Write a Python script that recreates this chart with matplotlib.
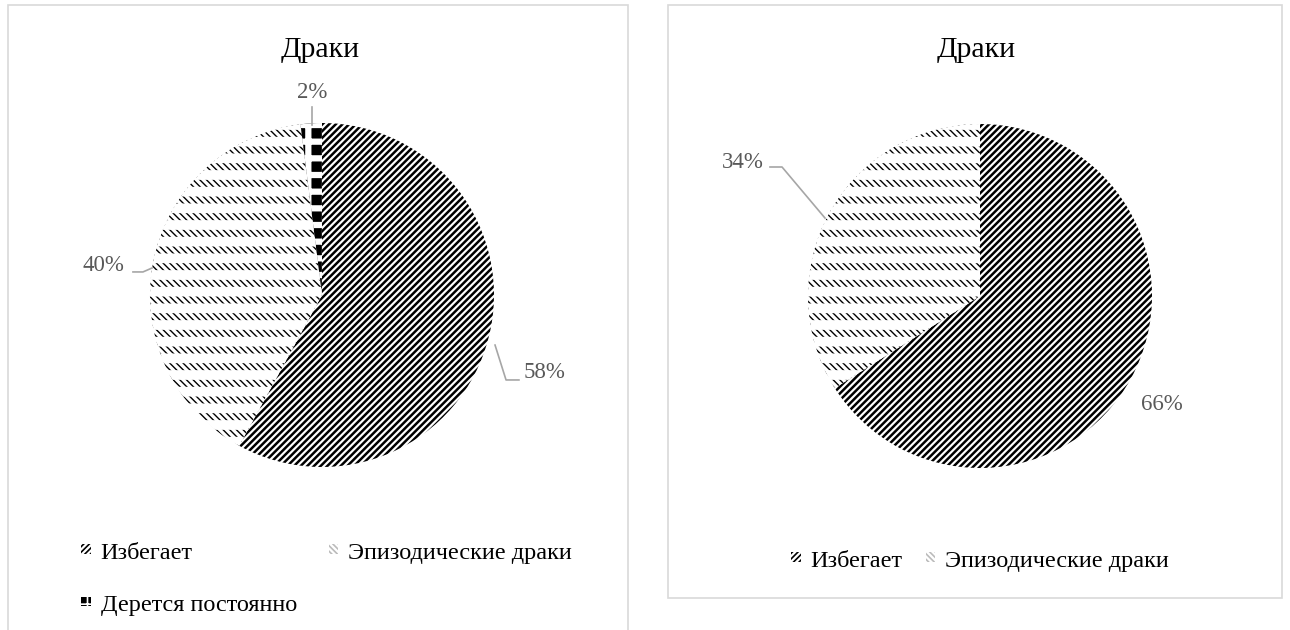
import matplotlib
matplotlib.use("Agg")
import matplotlib.pyplot as plt
from matplotlib.patches import Rectangle, Patch
from matplotlib.legend_handler import HandlerPatch

plt.rcParams['font.family'] = ['Liberation Serif', 'DejaVu Serif']

# ---- data ----
title = "Драки"
left_labels = ["Избегает", "Эпизодические драки", "Дерется постоянно"]
left_values = [58, 40, 2]
right_labels = ["Избегает", "Эпизодические драки"]
right_values = [66, 34]

W, H = 1290, 630
fig = plt.figure(figsize=(W / 100, H / 100), dpi=100)
fig.patch.set_facecolor('white')

R_PX = 172.0
AX_PX = 400.0
LIM = AX_PX / 2 / R_PX
GRAY = '#595959'
LEADER = '#a6a6a6'

def frac_box(x0, y0_top, w, h):
    return [x0 / W, 1 - (y0_top + h) / H, w / W, h / H]

# panel borders
for (x0, y0, x1, y1) in [(8, 5, 628, 640), (668, 5, 1282, 598)]:
    fig.add_artist(Rectangle((x0 / W, 1 - y1 / H), (x1 - x0) / W, (y1 - y0) / H,
                             transform=fig.transFigure, fill=False,
                             edgecolor='#d9d9d9', linewidth=1.2, clip_on=False))

def set_hlw(p, lw):
    if hasattr(p, 'set_hatch_linewidth'):
        p.set_hatch_linewidth(lw)

def style_wedges(ax, values, kinds):
    with plt.rc_context({'hatch.linewidth': 1.8}):
        wb, _ = ax.pie(values, startangle=90, counterclock=False, radius=1,
                       wedgeprops=dict(linewidth=0))
    with plt.rc_context({'hatch.linewidth': 7.0}):
        wo, _ = ax.pie(values, startangle=90, counterclock=False, radius=1,
                       wedgeprops=dict(linewidth=0))
    for b, o, k in zip(wb, wo, kinds):
        if k == 'avoid':
            b.set_facecolor('white'); b.set_edgecolor('black'); b.set_hatch('/////')
            set_hlw(b, 1.8)
            o.set_visible(False)
        elif k == 'episodic':
            b.set_facecolor('white'); b.set_edgecolor('black'); b.set_hatch('\\' * 5)
            set_hlw(b, 1.0)
            o.set_facecolor('none'); o.set_edgecolor('white'); o.set_hatch('-')
            set_hlw(o, 7.0)
        else:
            b.set_facecolor('black'); b.set_edgecolor('white'); b.set_hatch('+')
            set_hlw(b, 4.5)
            o.set_visible(False)
        b.set_linewidth(0); o.set_linewidth(0)
    ax.set_xlim(-LIM, LIM); ax.set_ylim(-LIM, LIM)
    return wb

def setup_ax(cx, cy):
    ax = fig.add_axes(frac_box(cx - AX_PX / 2, cy - AX_PX / 2, AX_PX, AX_PX))
    ax.set_aspect('equal'); ax.axis('off')
    return ax

# ---------- left chart ----------
axL = setup_ax(322, 295)
kindsL = ['avoid', 'episodic', 'constant']
wL = style_wedges(axL, left_values, kindsL)

# label layout (data units relative to pie centre)
left_label_pos = [((1.169, -0.453), 'left'), ((-1.273, 0.174), 'center'), ((-0.058, 1.18), 'center')]
left_leaders = [
    [(1.006, -0.291), (1.070, -0.494), (1.145, -0.494)],
    [(-1.099, 0.134), (-1.041, 0.134), (-0.988, 0.157)],
    [(-0.058, 1.093), (-0.058, 0.988)],
]
for v, ((x, y), ha), pts in zip(left_values, left_label_pos, left_leaders):
    axL.text(x, y, f"{v}%", ha=ha, va='center', fontsize=16.5, color=GRAY)
    xs, ys = zip(*pts)
    axL.plot(xs, ys, color=LEADER, lw=1.2, clip_on=False)

fig.text(320 / W, 1 - 50 / H, title, ha='center', va='center', fontsize=21.5)

class SmallHandler(HandlerPatch):
    def create_artists(self, legend, orig_handle, xdescent, ydescent, width, height, fontsize, trans):
        s = 7.0
        p = Rectangle((width - s, height / 2 - s / 2 + 1), s, s,
                      facecolor=orig_handle.get_facecolor(),
                      edgecolor=orig_handle.get_edgecolor(),
                      hatch=orig_handle.get_hatch(), linewidth=0, transform=trans)
        set_hlw(p, 1.2)
        return [p]

def leg_handles(kinds):
    hs = []
    for k in kinds:
        if k == 'avoid':
            hs.append(Patch(facecolor='white', edgecolor='black', hatch='//////'))
        elif k == 'episodic':
            hs.append(Patch(facecolor='white', edgecolor='#bbbbbb', hatch='\\' * 6))
        else:
            hs.append(Patch(facecolor='black', edgecolor='white', hatch='++'))
    return hs

hL = leg_handles(kindsL)
order = [0, 2, 1]
legL = fig.legend([hL[i] for i in order], [left_labels[i] for i in order],
                  ncol=2, loc='upper left', bbox_to_anchor=(80 / W, 1 - 542 / H),
                  frameon=False, fontsize=17.5, handlelength=0.45, handletextpad=0.4,
                  columnspacing=1.26, labelspacing=1.25, borderaxespad=0, borderpad=0,
                  handler_map={Patch: SmallHandler()})

# ---------- right chart ----------
axR = setup_ax(980, 296)
kindsR = ['avoid', 'episodic']
wR = style_wedges(axR, right_values, kindsR)

right_label_pos = [((1.058, -0.628), 'center'), ((-1.378, 0.779), 'center')]
right_leaders = [
    None,
    [(-1.221, 0.750), (-1.151, 0.750), (-0.901, 0.453)],
]
for v, ((x, y), ha), pts in zip(right_values, right_label_pos, right_leaders):
    axR.text(x, y, f"{v}%", ha=ha, va='center', fontsize=16.5, color=GRAY)
    if pts:
        xs, ys = zip(*pts)
        axR.plot(xs, ys, color=LEADER, lw=1.2, clip_on=False)

fig.text(976 / W, 1 - 50 / H, title, ha='center', va='center', fontsize=21.5)

hR = leg_handles(kindsR)
legR = fig.legend(hR, right_labels, ncol=2, loc='upper left',
                  bbox_to_anchor=(790 / W, 1 - 550 / H),
                  frameon=False, fontsize=17.5, handlelength=0.45, handletextpad=0.4,
                  columnspacing=0.9, borderaxespad=0, borderpad=0,
                  handler_map={Patch: SmallHandler()})

fig.savefig('out.png', dpi=100, facecolor='white')
